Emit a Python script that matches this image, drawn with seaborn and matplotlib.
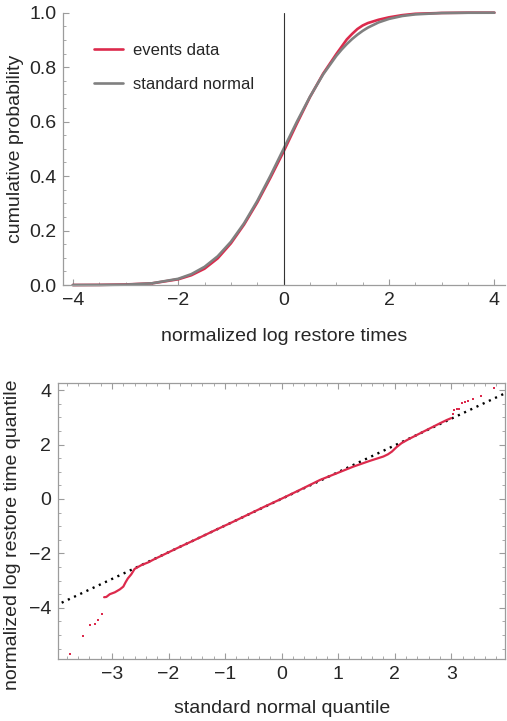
import numpy as np
import pandas as pd
import matplotlib
matplotlib.use("Agg")
import matplotlib.pyplot as plt
from matplotlib.ticker import MultipleLocator
import seaborn as sns

cdf_x = [-4.0, -3.5, -3.0, -2.5, -2.0, -1.75, -1.5, -1.25, -1.0, -0.75, -0.5, -0.25,
         0.0, 0.25, 0.5, 0.75, 1.0, 1.1, 1.2, 1.3, 1.4, 1.5, 1.6, 1.8, 2.0, 2.25,
         2.5, 3.0, 3.5, 4.0]
events_cdf = [0.0, 0.0005, 0.002, 0.006, 0.021, 0.036, 0.060, 0.098, 0.153, 0.222,
              0.303, 0.394, 0.490, 0.592, 0.690, 0.776, 0.848, 0.875, 0.902, 0.922,
              0.940, 0.953, 0.962, 0.974, 0.983, 0.991, 0.996, 0.999, 1.0, 1.0]
normal_cdf = [0.0, 0.0002, 0.0013, 0.0062, 0.0228, 0.040, 0.0668, 0.1056, 0.1587,
              0.2266, 0.3085, 0.4013, 0.5, 0.5987, 0.6915, 0.7734, 0.8413, 0.8643,
              0.8849, 0.9032, 0.9192, 0.9332, 0.9452, 0.9641, 0.9772, 0.9878,
              0.9938, 0.9987, 0.9998, 1.0]

# --- bottom panel: QQ plot
qq_x = [-3.14, -3.10, -3.04, -2.95, -2.86, -2.80, -2.76, -2.72, -2.66, -2.60, -2.48,
        -2.36, -2.25, -2.10, -1.80, -1.50, -1.20, -0.90, -0.60, -0.30, 0.00, 0.30,
        0.68, 0.97, 1.27, 1.56, 1.80, 1.88, 1.95, 2.03, 2.12, 2.24, 2.39, 2.59,
        2.80, 2.92, 3.00]
qq_y = [-3.61, -3.60, -3.50, -3.43, -3.32, -3.22, -3.06, -2.92, -2.77, -2.57, -2.43,
        -2.33, -2.21, -2.06, -1.76, -1.47, -1.17, -0.88, -0.58, -0.28, 0.01, 0.31,
        0.70, 0.94, 1.19, 1.40, 1.56, 1.64, 1.74, 1.90, 2.05, 2.19, 2.35, 2.56,
        2.78, 2.90, 2.97]
tail_x = [-3.75, -3.52, -3.39, -3.30, -3.24, -3.18,
          3.03, 3.05, 3.10, 3.13, 3.19, 3.24, 3.30, 3.39, 3.52, 3.75]
tail_y = [-5.70, -5.04, -4.62, -4.60, -4.45, -4.23,
          3.11, 3.27, 3.30, 3.30, 3.52, 3.57, 3.61, 3.68, 3.79, 4.06]
ref_x = [-4.0, 4.0]
ref_y = [-3.92, 3.93]

RED = "#dc2a4c"
GRAY = "#808080"
FRAME = "#9c9c9c"
FS = 14

sns.set_style("ticks")
plt.rcParams['font.family'] = ['Liberation Sans', 'DejaVu Sans']
plt.rcParams['font.size'] = FS
plt.rcParams['axes.unicode_minus'] = True

fig = plt.figure(figsize=(5.07, 7.21), dpi=100)
ax1 = fig.add_axes([0.1249, 0.6047, 0.871, 0.3777])
ax2 = fig.add_axes([0.115, 0.086, 0.881, 0.3824])

# top panel
df_cdf = pd.DataFrame({"x": cdf_x, "events": events_cdf, "normal": normal_cdf})
sns.lineplot(data=df_cdf, x="x", y="events", ax=ax1, color=RED, lw=1.9,
             label="events data", clip_on=False)
sns.lineplot(data=df_cdf, x="x", y="normal", ax=ax1, color=GRAY, lw=1.9,
             label="standard normal", clip_on=False)
ax1.axvline(0, color="#333333", lw=0.8)
ax1.set_xlim(-4.18, 4.2)
ax1.set_ylim(0, 1.0)
ax1.set_xticks([-4, -2, 0, 2, 4])
ax1.set_yticks([0, 0.2, 0.4, 0.6, 0.8, 1.0])
ax1.set_yticklabels(["0.0", "0.2", "0.4", "0.6", "0.8", "1.0"])
ax1.xaxis.set_minor_locator(MultipleLocator(0.5))
ax1.yaxis.set_minor_locator(MultipleLocator(0.05))
for s in ["top", "right"]:
    ax1.spines[s].set_visible(False)
for s in ["left", "bottom"]:
    ax1.spines[s].set_color(FRAME)
    ax1.spines[s].set_linewidth(0.9)
ax1.tick_params(which="both", direction="in", color=FRAME, labelsize=FS, pad=5)
ax1.tick_params(which="major", length=4.5, width=0.8)
ax1.tick_params(which="minor", length=2.5, width=0.6)
ax1.set_xlabel("normalized log restore times", fontsize=FS, labelpad=14)
ax1.set_ylabel("cumulative probability", fontsize=FS, labelpad=4)
leg = ax1.legend(loc="upper left", bbox_to_anchor=(0.07, 0.89), frameon=False,
                 handlelength=1.75, handletextpad=0.6, labelspacing=1.15,
                 borderpad=0, borderaxespad=0, fontsize=12)

# bottom panel
df_qq = pd.DataFrame({"x": qq_x, "y": qq_y})
df_tail = pd.DataFrame({"x": tail_x, "y": tail_y})
sns.lineplot(x=ref_x, y=ref_y, ax=ax2, color="black", lw=1.7,
             linestyle=(0, (0.9, 2.0)))
sns.lineplot(data=df_qq, x="x", y="y", ax=ax2, color=RED, lw=1.6, sort=False)
sns.scatterplot(data=df_tail, x="x", y="y", ax=ax2, color=RED, marker="s", s=4,
                linewidth=0)
ax2.set_xlim(-3.95, 3.95)
ax2.set_ylim(-5.88, 4.25)
ax2.set_xticks([-3, -2, -1, 0, 1, 2, 3])
ax2.set_yticks([-4, -2, 0, 2, 4])
ax2.xaxis.set_minor_locator(MultipleLocator(0.2))
ax2.yaxis.set_minor_locator(MultipleLocator(0.5))
for s in ax2.spines.values():
    s.set_color(FRAME)
    s.set_linewidth(0.9)
ax2.tick_params(which="both", direction="in", color=FRAME, labelsize=FS, pad=5,
                top=True, right=True)
ax2.tick_params(which="major", length=4.5, width=0.8)
ax2.tick_params(which="minor", length=2.5, width=0.6)
ax2.set_xlabel("standard normal quantile", fontsize=FS, labelpad=12)
ax2.set_ylabel("normalized log restore time quantile", fontsize=FS)
ax2.yaxis.set_label_coords(-0.083, 0.45)

fig.savefig("out.png", dpi=100)
